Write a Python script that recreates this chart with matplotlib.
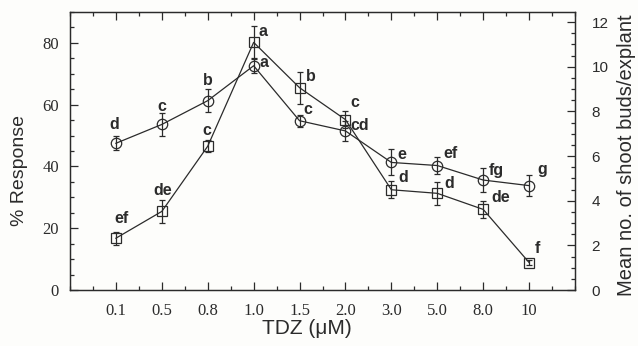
import numpy as np
import matplotlib
matplotlib.use('Agg')
import matplotlib.pyplot as plt
from matplotlib.ticker import MultipleLocator

tdz = ['0.1', '0.5', '0.8', '1.0', '1.5', '2.0', '3.0', '5.0', '8.0', '10']

# % response (circles, left axis)
resp = [47.5, 53.6, 61.3, 72.6, 54.8, 51.5, 41.3, 40.3, 35.6, 33.8]
resp_err = [2.3, 3.8, 3.8, 2.4, 1.9, 3.2, 4.2, 2.8, 3.9, 3.5]
resp_let = ['d', 'c', 'b', 'a', 'c', 'cd', 'e', 'ef', 'fg', 'g']

# mean no. of shoot buds (squares, right axis)
buds = [2.32, 3.52, 6.44, 11.09, 9.06, 7.63, 4.49, 4.33, 3.61, 1.23]
buds_err = [0.30, 0.52, 0.26, 0.75, 0.71, 0.37, 0.37, 0.51, 0.39, 0.10]
buds_let = ['ef', 'de', 'c', 'a', 'b', 'c', 'd', 'd', 'de', 'f']

# label offsets in pixels
resp_off = [(-2, 19), (0, 18), (0, 20), (10, 3), (8, 11), (14, 5), (10, 8), (13, 12), (13, 10), (13, 16)]
buds_off = [(6, 20), (1, 21), (-1, 16), (9, 11), (11, 11), (9, 17), (12, 12), (12, 10), (17, 12), (8, 14)]

serif = 'Liberation Serif'
sans = 'Liberation Sans'
ink = '#2b2b2b'

W, H = 638, 346
fig = plt.figure(figsize=(W / 100, H / 100), dpi=100)
fig.patch.set_facecolor('#fdfdfb')
ax = fig.add_axes([0.1097, 0.1618, 0.7916, 0.8035])
ax.set_facecolor('#fdfdfb')
ax2 = ax.twinx()

x = np.arange(len(tdz))
ax.errorbar(x, resp, yerr=resp_err, fmt='-o', color=ink, lw=0.9, ms=7.5,
            mfc='none', mec=ink, mew=0.9, elinewidth=0.9, capsize=2.5, capthick=0.9)
ax2.errorbar(x, buds, yerr=buds_err, fmt='-s', color=ink, lw=0.9, ms=7,
             mfc='none', mec=ink, mew=0.9, elinewidth=0.9, capsize=2.5, capthick=0.9)

for i in range(len(tdz)):
    ax.annotate(resp_let[i], (x[i], resp[i]), xytext=resp_off[i], textcoords='offset pixels',
                ha='center', va='center', fontsize=11.5, fontweight='bold', family=sans, color=ink)
    ax2.annotate(buds_let[i], (x[i], buds[i]), xytext=buds_off[i], textcoords='offset pixels',
                 ha='center', va='center', fontsize=11.5, fontweight='bold', family=sans, color=ink)

ax.set_xlim(-1, 10)
ax.set_ylim(0, 90)
ax2.set_ylim(0, 12.45)

ax.set_xticks(x)
ax.set_xticklabels(tdz, family=serif, fontsize=12, color=ink)
ax.xaxis.set_minor_locator(MultipleLocator(0.5))
ax.set_yticks([0, 20, 40, 60, 80])
ax.set_yticklabels(['0', '20', '40', '60', '80'], family=serif, fontsize=12, color=ink)
ax.yaxis.set_minor_locator(MultipleLocator(5))
ax2.set_yticks([0, 2, 4, 6, 8, 10, 12])
ax2.set_yticklabels(['0', '2', '4', '6', '8', '10', '12'], family=sans, fontsize=11, color=ink)
ax2.yaxis.set_minor_locator(MultipleLocator(0.5))

ax.tick_params(axis='both', which='both', direction='in', top=True, colors=ink, width=0.9)
ax.tick_params(axis='y', which='both', right=False)
ax.tick_params(which='major', length=6)
ax.tick_params(which='minor', length=3)
ax.tick_params(axis='x', pad=9)
ax.tick_params(axis='y', pad=8)
ax2.tick_params(axis='y', which='both', direction='in', colors=ink, width=0.9)
ax2.tick_params(which='major', length=6, pad=12)
ax2.tick_params(which='minor', length=3)

for a in (ax, ax2):
    for s in a.spines.values():
        s.set_color(ink)
        s.set_linewidth(0.9)

# axis titles placed in figure pixels
fig.text(307 / W, 1 - 329 / H, 'TDZ (\u03bcM)', family=sans, fontsize=15, color=ink,
         ha='center', va='center')
fig.text(20 / W, 1 - 171 / H, '% Response', family=sans, fontsize=14, color=ink,
         ha='center', va='center', rotation=90)
fig.text(627 / W, 1 - 155 / H, 'Mean no. of shoot buds/explant', family=sans, fontsize=14.5,
         color=ink, ha='center', va='center', rotation=90)

fig.savefig('out.png', dpi=100, facecolor=fig.get_facecolor())
